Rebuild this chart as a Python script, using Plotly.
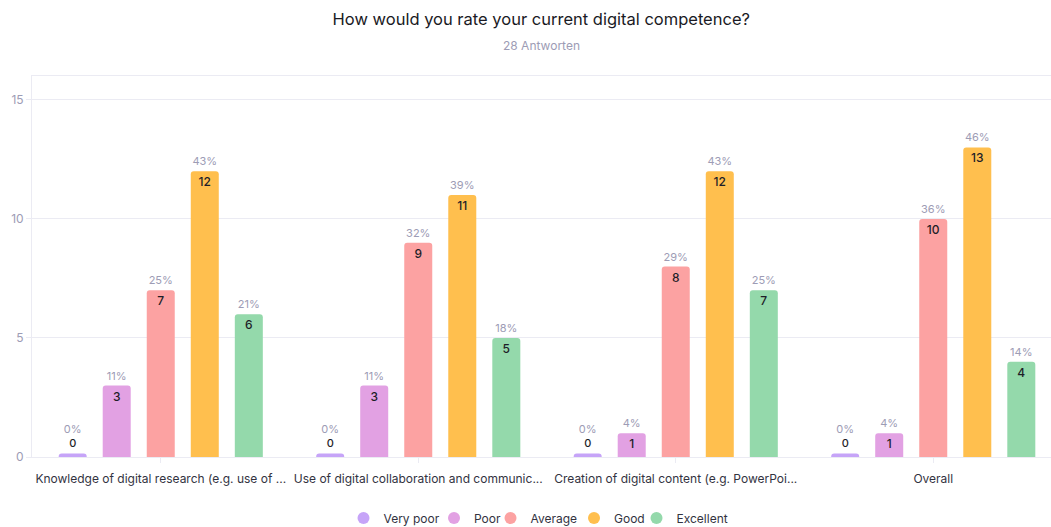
import plotly.graph_objects as go

categories = [
    "Knowledge of digital research (e.g. use of ...",
    "Use of digital collaboration and communic...",
    "Creation of digital content (e.g. PowerPoi...",
    "Overall",
]
series_names = ["Very poor", "Poor", "Average", "Good", "Excellent"]
very_poor = [0, 0, 0, 0]
poor = [3, 3, 1, 1]
average = [7, 9, 8, 10]
good = [12, 11, 12, 13]
excellent = [6, 5, 7, 4]
very_poor_pct = [0, 0, 0, 0]
poor_pct = [11, 11, 4, 4]
average_pct = [25, 32, 29, 36]
good_pct = [43, 39, 43, 46]
excellent_pct = [21, 18, 25, 14]
y_ticks = [0, 5, 10, 15]

values = [very_poor, poor, average, good, excellent]
percents = [very_poor_pct, poor_pct, average_pct, good_pct, excellent_pct]
colors = ["#c6a4f8", "#e2a1e3", "#fca2a2", "#ffbf4e", "#94d9ab"]

GREY = "#9d9cb5"
DARK = "#1e1e28"
GRID = "#ebebf3"
ZERO_STUB = 0.15  # minimum visual height for zero-value bars

# legend item positions (pixel x of each legend symbol's centre)
legend_centres_px = [363.5, 454.0, 510.5, 594.0, 656.5]
PLOT_LEFT, PLOT_W = 32, 1019
SYMBOL_OFFSET = 20

fig = go.Figure()
legend_layouts = {}
for i, (name, vals, pcts, col) in enumerate(zip(series_names, values, percents, colors)):
    shown = [v if v > 0 else ZERO_STUB for v in vals]
    count_text = [str(v) if v > 0 else "" for v in vals]
    pct_text = [
        f"<span style='color:{GREY}'>{p}%</span>" if v > 0
        else f"<span style='color:{GREY}'>{p}%</span><br><span style='color:{DARK};font-weight:500'>{v}</span>"
        for v, p in zip(vals, pcts)
    ]
    fig.add_trace(go.Bar(
        x=categories, y=shown, name=name, offsetgroup=name,
        marker=dict(color=col, line=dict(width=0)),
        text=count_text, textposition="inside", insidetextanchor="end",
        textangle=0, textfont=dict(size=12, color=DARK, family="Inter", weight=500),
        showlegend=False, hoverinfo="skip",
    ))
    fig.add_trace(go.Bar(
        x=categories, y=shown, name=name + " pct", offsetgroup=name,
        marker=dict(color="rgba(0,0,0,0)", line=dict(width=0)),
        text=pct_text, textposition="outside", textangle=0,
        textfont=dict(size=11, color=GREY, family="Inter"),
        cliponaxis=False, showlegend=False, hoverinfo="skip",
    ))
    lg = "legend" if i == 0 else f"legend{i + 1}"
    fig.add_trace(go.Scatter(
        x=[None], y=[None], mode="markers", name=name,
        marker=dict(color=col, size=12, symbol="circle"),
        showlegend=True, legend=lg,
    ))
    legend_layouts[lg] = dict(
        orientation="h", xanchor="left", yanchor="middle", y=-0.16,
        x=(legend_centres_px[i] - SYMBOL_OFFSET - PLOT_LEFT) / PLOT_W,
        font=dict(size=12, color="#33333f", family="Inter"),
        bgcolor="rgba(0,0,0,0)", itemclick=False, itemdoubleclick=False,
    )

fig.update_layout(
    width=1051, height=527,
    margin=dict(l=32, r=0, t=76, b=70, autoexpand=False),
    paper_bgcolor="white", plot_bgcolor="white",
    font=dict(family="Inter", size=12, color=DARK),
    barmode="group", bargap=0.145, bargroupgap=0.364,
    barcornerradius=3,
    title=dict(
        text="How would you rate your current digital competence?",
        x=0.515, xanchor="center", y=1 - 19 / 527, yanchor="middle",
        font=dict(size=16.5, color="#1a1a24", family="Inter"),
    ),
    annotations=[dict(
        text="28 Antworten", xref="paper", yref="paper", x=0.5, y=1 + 30 / 381,
        xanchor="center", yanchor="middle", showarrow=False,
        font=dict(size=12, color=GREY, family="Inter"),
    )],
    showlegend=True,
    **legend_layouts,
)
fig.update_xaxes(
    type="category", range=[-0.5, 3.5 - 11 / 257.6],
    showline=True, mirror=True, linecolor=GRID, linewidth=1,
    ticks="outside", ticklen=5, tickcolor=GRID,
    tickfont=dict(size=12, color="#33333f"), showgrid=False,
    ticklabelstandoff=6,
)
fig.update_yaxes(
    range=[0, 16], tickvals=y_ticks, showgrid=True, gridcolor=GRID, gridwidth=1,
    showline=True, linecolor=GRID, linewidth=1, zeroline=False,
    ticks="outside", ticklen=5, tickcolor=GRID,
    tickfont=dict(size=12, color=GREY),
)

fig.write_html("out.html")
